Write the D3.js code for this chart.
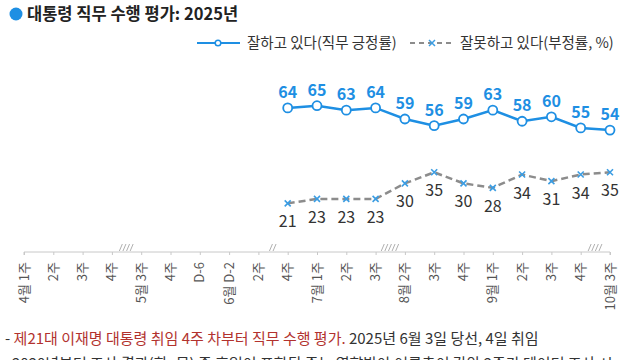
<!DOCTYPE html>
<html><head><meta charset="utf-8">
<script src="https://cdn.jsdelivr.net/npm/d3@7"></script>
<style>
html,body{margin:0;padding:0;background:#fff;}
svg{display:block;font-family:"Noto Sans CJK KR","Noto Sans",sans-serif;}
</style></head>
<body>
<svg id="c" width="640" height="360"></svg>
<script>
const weeks = ["1주","2주","3주","4주","3주","4주","D-6","D-2","2주","4주","1주","2주","3주","2주","3주","4주","1주","2주","3주","4주","3주"];
const months = ["4월","","","","5월","","","6월","","","7월","","","8월","","","9월","","","","10월"];
const breaks = [[3,4,4],[8,9,2],[12,13,5],[19,20,4]];
const approve = [null,null,null,null,null,null,null,null,null,64,65,63,64,59,56,59,63,58,60,55,54];
const disapprove = [null,null,null,null,null,null,null,null,null,21,23,23,23,30,35,30,28,34,31,34,35];
const title = "대통령 직무 수행 평가: 2025년";
const legendLabels = ["잘하고 있다(직무 긍정률)","잘못하고 있다(부정률, %)"];

const blue = "#1e8fe3", gray = "#8c8c8c";
const svg = d3.select("#c");
const idx = d3.range(weeks.length);
const x = d3.scalePoint().domain(idx).range([24, 610]);
const y = d3.scaleLinear().domain([0, 100]).range([250, 28]);
const axisY = 252;

// title
svg.append("circle").attr("cx", 16).attr("cy", 14).attr("r", 6.5).attr("fill", blue);
svg.append("text").attr("x", 27).attr("y", 20).attr("font-size", 16.5).attr("font-weight", 600)
  .attr("fill", "#222").text(title);

// legend
const lg = svg.append("g");
lg.append("line").attr("x1", 197).attr("x2", 240).attr("y1", 43).attr("y2", 43).attr("stroke", blue).attr("stroke-width", 2);
lg.append("circle").attr("cx", 218).attr("cy", 43).attr("r", 2.8).attr("fill", "#fff").attr("stroke", blue).attr("stroke-width", 1.5);
lg.append("text").attr("x", 247).attr("y", 48).attr("font-size", 14.5).attr("fill", "#333").text(legendLabels[0]);
lg.append("line").attr("x1", 410).attr("x2", 455).attr("y1", 43).attr("y2", 43).attr("stroke", gray).attr("stroke-width", 2).attr("stroke-dasharray", "5,4");
lg.append("path").attr("d", "M429,40L435,46M435,40L429,46").attr("stroke", "#3b9de3").attr("stroke-width", 1.5);
lg.append("text").attr("x", 460).attr("y", 48).attr("font-size", 14.5).attr("fill", "#333").text(legendLabels[1]);

// axis
const ax = svg.append("g").attr("transform", `translate(0,${axisY})`)
  .call(d3.axisBottom(x).tickSize(3).tickFormat(""));
ax.select(".domain").attr("stroke", "#c8c8c8").attr("d", `M${x(0)},3V0H${x(20)}V3`);
ax.selectAll(".tick line").attr("stroke", "#c8c8c8");

// break marks
breaks.forEach(([a, b, n]) => {
  const mid = (x(a) + x(b)) / 2, w = n * 3.6;
  for (let i = 0; i < n; i++) {
    const sx = mid - w / 2 + i * 3.6;
    svg.append("line").attr("x1", sx).attr("y1", axisY - 1).attr("x2", sx + 3).attr("y2", axisY - 8)
      .attr("stroke", "#b0b0b0").attr("stroke-width", 1);
  }
});

// tick labels
idx.forEach(i => {
  const t = svg.append("text").attr("transform", `translate(${x(i) + 4.5},262) rotate(-90)`)
    .attr("text-anchor", "end").attr("font-size", 13).attr("fill", "#555");
  t.text((months[i] ? months[i] + " " : "") + weeks[i]);
});

// disapprove line
const dd = idx.filter(i => disapprove[i] != null);
svg.append("path").datum(dd).attr("fill", "none").attr("stroke", gray).attr("stroke-width", 2.5)
  .attr("stroke-dasharray", "7,4")
  .attr("d", d3.line().x(i => x(i)).y(i => y(disapprove[i])));
svg.selectAll(".xm").data(dd).join("path").attr("class", "xm")
  .attr("d", i => { const cx = x(i), cy = y(disapprove[i]); return `M${cx-3},${cy-3}L${cx+3},${cy+3}M${cx+3},${cy-3}L${cx-3},${cy+3}`; })
  .attr("stroke", "#3b9de3").attr("stroke-width", 1.6);
svg.selectAll(".dl").data(dd).join("text").attr("class", "dl")
  .attr("x", i => x(i)).attr("y", i => y(disapprove[i]) + 24).attr("text-anchor", "middle")
  .attr("font-size", 16).attr("fill", "#333").text(i => disapprove[i]);

// approve line
const ad = idx.filter(i => approve[i] != null);
svg.append("path").datum(ad).attr("fill", "none").attr("stroke", blue).attr("stroke-width", 2.5)
  .attr("d", d3.line().x(i => x(i)).y(i => y(approve[i])));
svg.selectAll(".am").data(ad).join("circle").attr("class", "am")
  .attr("cx", i => x(i)).attr("cy", i => y(approve[i])).attr("r", 4.5)
  .attr("fill", "#fff").attr("stroke", blue).attr("stroke-width", 1.8);
svg.selectAll(".al").data(ad).join("text").attr("class", "al")
  .attr("x", i => x(i)).attr("y", i => y(approve[i]) - 10).attr("text-anchor", "middle")
  .attr("font-size", 16).attr("font-weight", 600).attr("fill", blue).text(i => approve[i]);

// footer
const f = svg.append("text").attr("x", 5).attr("y", 344).attr("font-size", 15).attr("fill", "#333");
f.append("tspan").text("- ");
f.append("tspan").attr("fill", "#b2322e").text("제21대 이재명 대통령 취임 4주 차부터 직무 수행 평가.");
f.append("tspan").text(" 2025년 6월 3일 당선, 4일 취임");
svg.append("text").attr("x", 12).attr("y", 369).attr("font-size", 15).attr("fill", "#333")
  .text("2020년부터 조사 결과(화~목) 중 휴일이 포함된 주는 영향받아 여론추이 감안 2주간 데이터 조사 시");
</script>
</body></html>
